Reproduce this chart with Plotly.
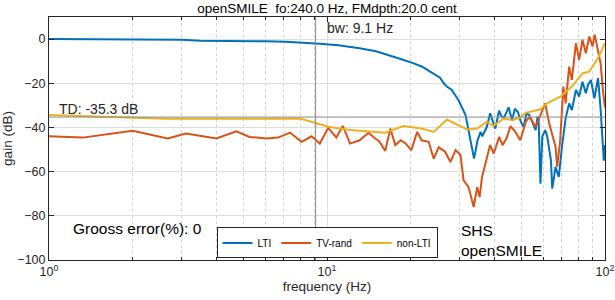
import plotly.graph_objects as go

# ---------------- data ----------------
lti_f = [1, 2, 3, 3.5, 4.7, 6, 7.1, 8, 9.4, 11, 13.1, 15, 17.4, 18.4, 20.4, 22, 23.5,
         25.5, 26.3, 27, 28.1, 29.7, 31.5, 32.7, 33.8, 34.8, 35.7, 36.2, 37.6, 38.6,
         39.3, 40.3, 41.6, 42.4, 43.3, 45, 46.3, 47.4, 48.6, 49.8, 51, 52.2, 53.5, 55,
         56.3, 57.2, 57.7, 58.6, 59.5, 61, 62, 63.9, 64.6, 66.4, 68.2, 70, 72.2, 74.3,
         76, 78.6, 80.7, 83, 85.3, 87, 89, 91.6, 94.4, 96.4, 98, 99, 100]
lti_db = [0, 0, -0.3, -0.7, -0.7, -1.0, -1.2, -1.5, -2.1, -2.8, -4.1, -5.5, -7.9, -9.0,
          -10.9, -12.5, -14.7, -17.5, -20.0, -21.5, -23, -27.6, -34.4, -44.3, -54.1,
          -45.8, -42, -44, -39.7, -33.6, -36.7, -40.5, -32.4, -35.0, -35.7, -30.9, -36.7,
          -31.5, -33, -37.5, -39.7, -33.5, -34.4, -38.0, -41.2, -35.0, -36.7, -65.5, -44.0,
          -41.2, -44.2, -54.9, -67.7, -57.9, -62.4, -48.8, -35.7, -29.1, -32.1, -23, -26,
          -19.3, -24.5, -20.5, -18.5, -26.8, -17.6, -31.4, -45, -55, -48]

tv_f = [1, 1.32, 2.0, 2.67, 3.11, 4.0, 4.72, 5.27, 6.06, 6.67, 7.36, 8.1, 8.8, 9.42,
        10.1, 10.8, 11.4, 12.1, 13.1, 14.1, 14.9, 15.4, 16.2, 16.9, 17.6, 18.4, 19.1,
        20.1, 21.1, 21.9, 23.2, 24.2, 25.2, 26.6, 27.8, 29.0, 30.2, 31.0, 32.3, 33.7,
        34.7, 35.4, 36.1, 37.6, 38.6, 39.8, 41.6, 42.8, 44.2, 45.7, 47.6, 49.6, 51.9,
        53.5, 56.3, 58.6, 60.9, 63, 64.6, 66.4, 67.3, 69, 70.8, 72.2, 74.3, 76, 78.6,
        80.7, 83, 85.3, 87.8, 90.2, 91.8, 94.5, 96.4, 98.5, 100]
tv_db = [-44, -44.6, -41.5, -45, -42.7, -45, -41.7, -44.3, -45, -44.6, -42.3, -46.5, -44,
         -47.3, -40.2, -44.5, -39.3, -47.3, -45.8, -42.4, -45, -46.2, -50.6, -40.5, -48,
         -45.8, -47, -50.3, -42, -45.8, -46.5, -54.1, -49, -51, -55.6, -50.3, -52.4, -64,
         -67, -76, -67, -71.5, -62.5, -54.1, -48, -51.8, -44.3, -48, -45, -39.4, -42,
         -45.8, -37.4, -35.2, -39.7, -34.4, -29.1, -38.2, -42.7, -48.8, -57.9, -45.8,
         -21.5, -29.1, -12.5, -18.5, -1.8, -9.4, -0.3, -6.4, 1.2, -3.3, 2, -6.4, -10.9,
         -24.5, -31]

nl_f = [1, 1.5, 2.64, 4, 6, 8, 10.1, 12.1, 16.2, 18.8, 21.9, 24.2, 27.0, 31.9, 34.7,
        37.6, 39.6, 43.3, 46.3, 49.6, 51.9, 58.6, 61.9, 69.0, 76.0, 83.0, 87.8, 94.4, 100]
nl_db = [-34.4, -35.2, -36.1, -36.1, -36.1, -36.0, -39.7, -41.2, -42.4, -39.4, -40.5, -42,
         -36.4, -40.9, -40.5, -37.4, -39.4, -35.9, -36.7, -35.5, -33.4, -31.8, -29.1,
         -26.1, -21.5, -15.5, -14.7, -8.6, -1.8]

series_names = ["LTI", "TV-rand", "non-LTI"]
series_colors = ["#0072BD", "#D95319", "#EDB120"]

bw_hz = 9.1
td_db = -35.3
x_limits = [1, 100]
y_limits = [-100, 10]
y_ticks = [-100, -80, -60, -40, -20, 0]
x_ticks = [1, 10, 100]
x_ticktext = ["10<sup>0</sup>", "10<sup>1</sup>", "10<sup>2</sup>"]
x_minor = [2, 3, 4, 5, 6, 7, 8, 9, 20, 30, 40, 50, 60, 70, 80, 90]

title_text = "openSMILE  fo:240.0 Hz, FMdpth:20.0 cent"

# ---------------- figure ----------------
FONT = "Liberation Sans"
fig = go.Figure()

for fx, fy, name, col in zip([lti_f, tv_f, nl_f], [lti_db, tv_db, nl_db],
                             series_names, series_colors):
    fig.add_trace(go.Scatter(x=fx, y=fy, mode="lines", name=name,
                             line=dict(color=col, width=2)))

fig.add_trace(go.Scatter(x=[bw_hz, bw_hz], y=y_limits, mode="lines", showlegend=False,
                         line=dict(color="#8a8a8a", width=1), hoverinfo="skip"))
fig.add_trace(go.Scatter(x=x_limits, y=[td_db, td_db], mode="lines", showlegend=False,
                         line=dict(color="#8a8a8a", width=1), hoverinfo="skip"))

axis_common = dict(showline=True, linecolor="#262626", linewidth=1, mirror="ticks",
                   ticks="inside", ticklen=5, tickcolor="#262626", automargin=False,
                   showgrid=True, gridcolor="#dedede", gridwidth=1, zeroline=False,
                   tickfont=dict(family=FONT, size=12.5, color="#262626"))

fig.update_xaxes(type="log", range=[0, 2], tickvals=x_ticks, ticktext=x_ticktext,
                 minor=dict(tickvals=x_minor, ticks="inside", ticklen=3,
                            tickcolor="#262626", showgrid=True, gridcolor="#d2d2d2",
                            griddash="dot", gridwidth=1),
                 title=dict(text="frequency (Hz)", font=dict(family=FONT, size=13.5,
                                                              color="#262626"),
                            standoff=3),
                 **axis_common)
fig.update_yaxes(range=y_limits, tickvals=y_ticks,
                 title=dict(text="gain (dB)", font=dict(family=FONT, size=13.5,
                                                         color="#262626"),
                            standoff=3),
                 **axis_common)

ann_font = dict(family=FONT, size=14, color="#262626")
big_font = dict(family=FONT, size=15.5, color="#000000")
fig.add_annotation(text="TD: -35.3 dB", xref="paper", yref="paper", x=0.014, y=0.622,
                   xanchor="left", yanchor="middle", showarrow=False, font=ann_font)
fig.add_annotation(text="bw: 9.1 Hz", xref="paper", yref="paper", x=0.496, y=0.956,
                   xanchor="left", yanchor="middle", showarrow=False, font=ann_font)
fig.add_annotation(text="Grooss error(%): 0", xref="paper", yref="paper", x=0.040,
                   y=0.131, xanchor="left", yanchor="middle", showarrow=False,
                   font=big_font)
fig.add_annotation(text="SHS", xref="paper", yref="paper", x=0.737, y=0.123,
                   xanchor="left", yanchor="middle", showarrow=False, font=big_font)
fig.add_annotation(text="openSMILE", xref="paper", yref="paper", x=0.737, y=0.041,
                   xanchor="left", yanchor="middle", showarrow=False, font=big_font)

fig.update_layout(
    width=615, height=300,
    margin=dict(l=49, r=10, t=17, b=40, autoexpand=False),
    paper_bgcolor="white", plot_bgcolor="white",
    title=dict(text=title_text, x=0.5, xref="paper", y=0.973, yref="container",
               xanchor="center", yanchor="middle",
               font=dict(family=FONT, size=13.5, color="#000000")),
    legend=dict(orientation="h", x=0.5, y=0.07, xanchor="center", yanchor="middle",
                bordercolor="#262626", borderwidth=1, bgcolor="white",
                font=dict(family=FONT, size=10, color="#000000"),
                itemwidth=30, tracegroupgap=0),
    showlegend=True,
)

fig.write_html("out.html",
               config={"displayModeBar": False},
               post_script="document.body.style.margin='0';"
                           "document.body.style.overflow='hidden';")
